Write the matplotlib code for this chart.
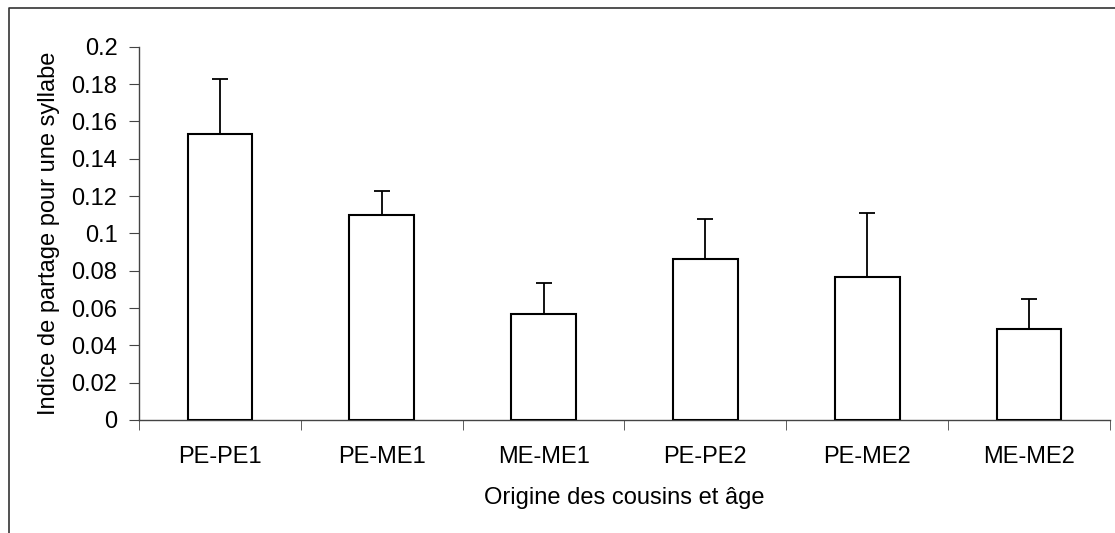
import matplotlib
matplotlib.use("Agg")
import matplotlib.pyplot as plt
import numpy as np
from matplotlib.lines import Line2D

# data
categories = ["PE-PE1", "PE-ME1", "ME-ME1", "PE-PE2", "PE-ME2", "ME-ME2"]
values = [0.153, 0.110, 0.057, 0.086, 0.0765, 0.049]
errors = [0.0295, 0.0128, 0.0166, 0.0216, 0.0342, 0.0158]
yticks = [0, 0.02, 0.04, 0.06, 0.08, 0.1, 0.12, 0.14, 0.16, 0.18, 0.2]

plt.rcParams['font.family'] = ['Liberation Sans', 'DejaVu Sans']
FS = 17

W, H = 1115, 533
fig = plt.figure(figsize=(W / 100, H / 100), dpi=100)
ax = fig.add_axes([139 / W, (H - 420) / H, (1110 - 139) / W, (420 - 46.7) / H])

x = np.arange(len(categories))
ax.bar(x, values, width=0.4, color='white', edgecolor='black', linewidth=1.5,
       yerr=[np.zeros(len(errors)), errors],
       error_kw=dict(ecolor='black', elinewidth=1.3, capsize=5.5, capthick=1.3),
       zorder=3)

ax.set_xlim(-0.5, len(categories) - 0.5)
ax.set_ylim(0, 0.2)
ax.set_yticks(yticks)
ax.set_yticklabels(["%g" % t for t in yticks])
ax.set_xticks(x)
ax.set_xticklabels(categories)
# category separators on the x axis
ax.set_xticks(np.arange(len(categories) + 1) - 0.5, minor=True)
ax.tick_params(axis='x', which='major', length=0, pad=18.5, labelsize=FS)
ax.tick_params(axis='x', which='minor', length=7, direction='out', color='#444444')
ax.tick_params(axis='y', length=7, direction='out', pad=8.5, labelsize=FS, color='#444444')

for s in ['top', 'right']:
    ax.spines[s].set_visible(False)
for s in ['left', 'bottom']:
    ax.spines[s].set_color('#444444')
    ax.spines[s].set_linewidth(1.0)

ax.set_ylabel("Indice de partage pour une syllabe", fontsize=FS, labelpad=8)
ax.set_xlabel("Origine des cousins et âge", fontsize=FS, labelpad=14)

# outer chart frame (top and left edges visible)
fig.add_artist(Line2D([9 / W, 9 / W, 1.0], [0.0, 1 - 7.5 / H, 1 - 7.5 / H],
                      transform=fig.transFigure, color='#333333', linewidth=1.2))

fig.savefig("out.png", dpi=100)
